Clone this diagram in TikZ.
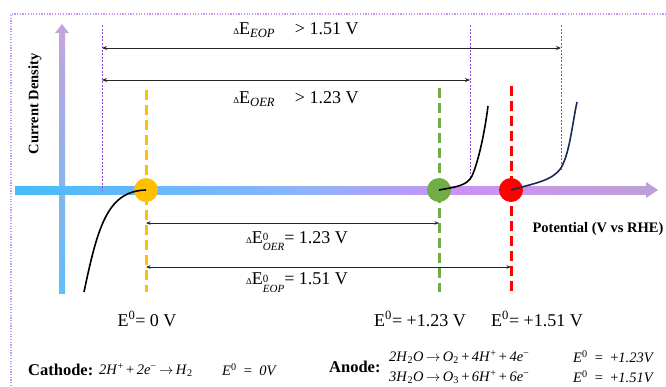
\documentclass[tikz,border=0pt]{standalone}
\usepackage{fontspec}
\setmainfont{Liberation Serif}
\usetikzlibrary{arrows.meta}
\definecolor{ylw}{RGB}{255,192,0}
\definecolor{grn}{RGB}{112,173,71}
\definecolor{rd}{RGB}{255,0,0}
\definecolor{navy}{RGB}{25,40,85}
\definecolor{bord}{RGB}{200,150,245}
\definecolor{vdash}{RGB}{150,70,220}
\definecolor{axA}{RGB}{70,188,250}
\definecolor{axB}{RGB}{140,180,250}
\definecolor{axC}{RGB}{205,145,245}
\definecolor{axD}{RGB}{190,160,215}
\definecolor{vaxB}{RGB}{95,190,250}
\definecolor{vaxT}{RGB}{195,165,220}
\newcommand{\smDelta}{{\fontsize{9}{9}\selectfont Δ}}
\newcommand{\Ezs}[1]{E\raisebox{-0.35ex}{\fontsize{11}{9}\selectfont\begin{tabular}[c]{@{}l@{}}0\\[-0.5pt]\itshape #1\end{tabular}}}
\newcommand{\Ei}{\textit{E}\textsuperscript{0}\enspace=\enspace}
\tikzset{
  guide/.style={vdash, line width=0.6pt, dash pattern=on 2pt off 1.5pt},
  potline/.style={line width=3pt, dash pattern=on 10pt off 5pt},
  dot/.style={circle, fill=#1, minimum size=24pt, inner sep=0pt},
  dim/.style={{Stealth[length=5pt,width=4pt]}-{Stealth[length=5pt,width=4pt]}, line width=0.8pt, black!85},
  dimthin/.style={{Stealth[length=4.5pt,width=3.5pt]}-{Stealth[length=4.5pt,width=3.5pt]}, line width=0.6pt, black!85},
  curve/.style={line width=1.6pt},
  lbl/.style={inner sep=0pt, font=\fontsize{18}{20}\selectfont},
  boldlbl/.style={inner sep=0pt, font=\fontsize{14.5}{16}\selectfont\bfseries},
  rxlbl/.style={inner sep=0pt, anchor=west, font=\fontsize{16.5}{18}\selectfont\bfseries},
  eqn/.style={inner sep=0pt, anchor=west, font=\fontsize{14.5}{16}\selectfont},
}
\begin{document}
\begin{tikzpicture}[x=1pt,y=-1pt]
\useasboundingbox (0,0) rectangle (666,386);
% border (dotted)
\draw[bord, line width=1.8pt, dash pattern=on 1.2pt off 1.5pt] (11,386) -- (11,14) -- (666,14);
% vertical axis
\shade[bottom color=vaxB, top color=vaxT] (59,293) rectangle (65,33);
\fill[vaxT] (55,33) -- (62,24) -- (69,33) -- cycle;
% horizontal axis
\shade[left color=axA, right color=axB] (15,186) rectangle (300,194);
\shade[left color=axB, right color=axC] (300,186) rectangle (460,194);
\shade[left color=axC, right color=axD] (460,186) rectangle (646,194);
\fill[axD] (646,182) -- (658,190) -- (646,198) -- cycle;
% guide lines
\coordinate (g1t) at (102,25); \coordinate (g1b) at (102,190);
\coordinate (g2t) at (470,25); \coordinate (g2b) at (470,180);
\coordinate (g3t) at (561,25); \coordinate (g3b) at (561,170);
\draw[guide] (g1t) -- (g1b);
\draw[guide] (g2t) -- (g2b);
\draw[guide] (g3t) -- (g3b);
% dimension arrows (top)
\coordinate (a1l) at (102,48); \coordinate (a1r) at (561,48);
\coordinate (a2l) at (102,80); \coordinate (a2r) at (470,80);
\draw[dim] (a1l) -- (a1r);
\draw[dim] (a2l) -- (a2r);
\node[lbl] (teop) at (296,30) {\smDelta E\textsubscript{\textit{EOP}}\hspace{1.1em}> 1.51 V};
\node[lbl] (toer) at (296,99) {\smDelta E\textsubscript{\textit{OER}}\hspace{1.1em}> 1.23 V};
% potential lines
\coordinate (p0t) at (146,90); \coordinate (p0b) at (146,292);
\coordinate (p1t) at (439,88); \coordinate (p1b) at (439,292);
\coordinate (p2t) at (511,86); \coordinate (p2b) at (511,292);
\draw[potline, ylw] (p0t) -- (p0b);
\draw[potline, grn] (p1t) -- (p1b);
\draw[potline, rd] (p2t) -- (p2b);
\node[dot=ylw] (c0) at (146,190) {};
\node[dot=grn] (c1) at (439,190) {};
\node[dot=rd] (c2) at (511,190) {};
% polarization curves
\coordinate (k0) at (84,292);
\draw[curve] (k0) .. controls (98,225) and (108,191) .. (c0.center);
\coordinate (k1) at (488,106);
\draw[curve] (c1.center) .. controls (455,187) and (467,186) .. (472,176) .. controls (479,160) and (485,130) .. (k1);
\coordinate (k2) at (577,102);
\draw[curve, navy] (c2.center) .. controls (535,183) and (552,181) .. (561,168) .. controls (570,152) and (572,125) .. (k2);
% lower dimension arrows
\coordinate (b1l) at (146,223); \coordinate (b1r) at (439,223);
\coordinate (b2l) at (146,267); \coordinate (b2r) at (511,267);
\draw[dimthin] (b1l) -- (b1r);
\draw[dimthin] (b2l) -- (b2r);
\node[lbl] (doer) at (297,242) {\smDelta\Ezs{OER}= 1.23 V};
\node[lbl] (deop) at (297,284) {\smDelta\Ezs{EOP}= 1.51 V};
% axis labels
\node[boldlbl, rotate=90] (cd) at (35,104) {Current Density};
\node[boldlbl] (pot) at (598,229) {Potential (V vs RHE)};
% E0 labels
\node[lbl] (e0) at (147,319) {E\textsuperscript{0}= 0 V};
\node[lbl] (e1) at (420,319) {E\textsuperscript{0}= +1.23 V};
\node[lbl] (e2) at (537,319) {E\textsuperscript{0}= +1.51 V};
% reactions
\node[rxlbl] (cath) at (28,370) {Cathode:};
\node[eqn] (ceq) at (99,370) {\textit{2H}\textsuperscript{+}\,+\,\textit{2e}\textsuperscript{−}\,$\rightarrow$\,\textit{H}\textsubscript{2}};
\node[eqn] (cE) at (222,370) {\Ei\textit{0V}};
\node[rxlbl] (anod) at (329,367) {Anode:};
\node[eqn] (aeq1) at (389,357) {\textit{2H}\textsubscript{2}\textit{O}\,$\rightarrow$\,\textit{O}\textsubscript{2}\,+\,\textit{4H}\textsuperscript{+}\,+\,\textit{4e}\textsuperscript{−}};
\node[eqn] (aeq2) at (389,377) {\textit{3H}\textsubscript{2}\textit{O}\,$\rightarrow$\,\textit{O}\textsubscript{3}\,+\,\textit{6H}\textsuperscript{+}\,+\,\textit{6e}\textsuperscript{−}};
\node[eqn] (aE1) at (573,357) {\Ei+\textit{1.23V}};
\node[eqn] (aE2) at (573,377) {\Ei+\textit{1.51V}};
\end{tikzpicture}
\end{document}
